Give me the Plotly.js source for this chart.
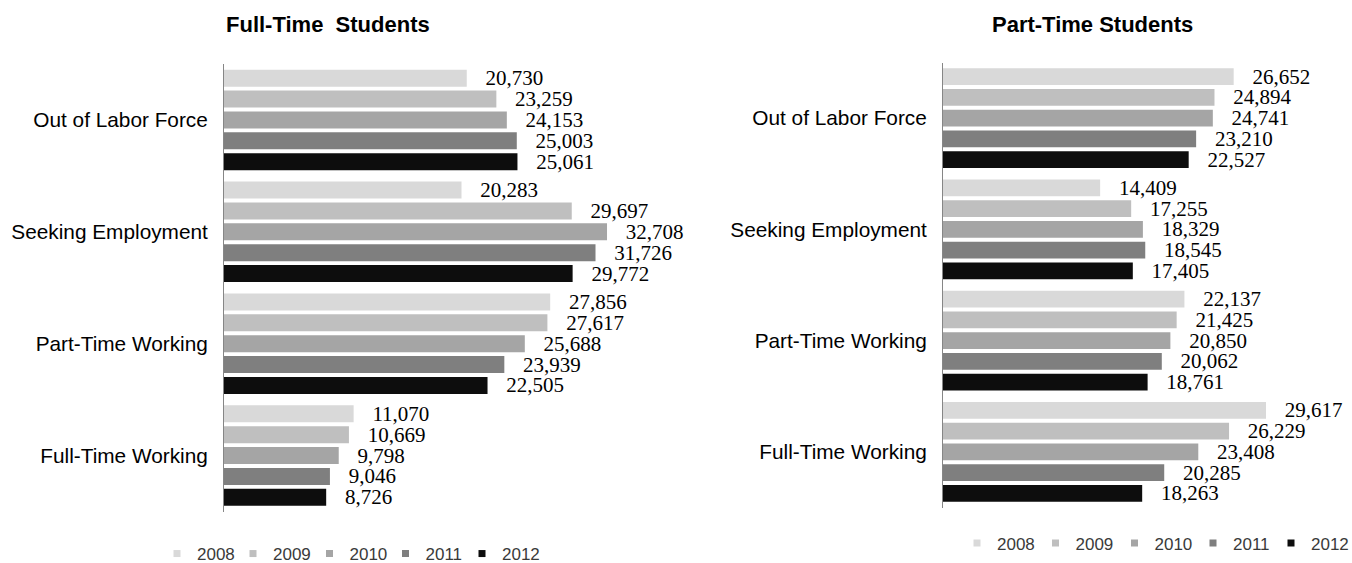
<!DOCTYPE html>
<html>
<head>
<meta charset="utf-8">
<script src="https://cdn.plot.ly/plotly-3.0.1.min.js"></script>
<style>html,body{margin:0;padding:0;background:#fff;}#chart{width:1352px;height:563px;}</style>
</head>
<body>
<div id="chart"></div>
<script>
// ---- data ----
var categories = ['Out of Labor Force', 'Seeking Employment', 'Part-Time Working', 'Full-Time Working'];
var years = ['2008', '2009', '2010', '2011', '2012'];

var fullTime2008 = [20730, 20283, 27856, 11070];
var fullTime2009 = [23259, 29697, 27617, 10669];
var fullTime2010 = [24153, 32708, 25688, 9798];
var fullTime2011 = [25003, 31726, 23939, 9046];
var fullTime2012 = [25061, 29772, 22505, 8726];

var partTime2008 = [26652, 14409, 22137, 29617];
var partTime2009 = [24894, 17255, 21425, 26229];
var partTime2010 = [24741, 18329, 20850, 23408];
var partTime2011 = [23210, 18545, 20062, 20285];
var partTime2012 = [22527, 17405, 18761, 18263];

var titleLeft = 'Full-Time\u00a0 Students';
var titleRight = 'Part-Time Students';

// ---- styling ----
var colors = ['#d9d9d9', '#bfbfbf', '#a5a5a5', '#7f7f7f', '#0d0d0d'];
var fullSeries = [fullTime2008, fullTime2009, fullTime2010, fullTime2011, fullTime2012];
var partSeries = [partTime2008, partTime2009, partTime2010, partTime2011, partTime2012];

var sans = 'Liberation Sans, Arial, sans-serif';
var serif = 'Liberation Serif, Times New Roman, serif';
var W = 1352, H = 563;
function px(v) { return v / W; }
function py(v) { return 1 - v / H; }

var traces = [];
function addBars(series, xa, ya) {
  series.forEach(function (vals, i) {
    traces.push({
      type: 'bar', orientation: 'h',
      x: vals, y: categories,
      xaxis: xa, yaxis: ya,
      name: years[i], showlegend: false,
      marker: { color: colors[i], line: { width: 0 } },
      texttemplate: '\u00a0\u00a0\u00a0%{x:,}',
      textposition: 'outside',
      cliponaxis: false,
      constraintext: 'none',
      textfont: { family: serif, size: 21, color: '#000' },
      hoverinfo: 'skip'
    });
  });
}
addBars(fullSeries, 'x', 'y');
addBars(partSeries, 'x2', 'y2');

// legend entries: one small legend per year and panel, so each entry sits where the reference has it
var leftLegendX = [157, 233, 309.5, 385.5, 462];
var rightLegendX = [957, 1035.5, 1114.5, 1193, 1271];
var legendFont = { family: sans, size: 17, color: '#3a3a3a' };
var layoutLegends = {};
var legendCount = 0;
function addLegends(xa, ya, xs, yc) {
  years.forEach(function (yr, i) {
    legendCount += 1;
    var key = legendCount === 1 ? 'legend' : 'legend' + legendCount;
    traces.push({
      type: 'scatter', mode: 'markers', x: [null], y: [null],
      xaxis: xa, yaxis: ya, name: yr, legend: key, showlegend: true,
      marker: { symbol: 'square', size: 7, color: colors[i] }, hoverinfo: 'skip'
    });
    layoutLegends[key] = {
      orientation: 'h', x: px(xs[i]), y: py(yc), xanchor: 'left', yanchor: 'middle',
      font: legendFont, itemwidth: 30, bgcolor: 'rgba(0,0,0,0)', borderwidth: 0
    };
  });
}
addLegends('x', 'y', leftLegendX, 554);
addLegends('x2', 'y2', rightLegendX, 543.5);

var yCommon = {
  type: 'category', categoryorder: 'array', categoryarray: categories,
  autorange: 'reversed', showgrid: false, zeroline: false, automargin: false,
  showline: true, linecolor: '#868686', linewidth: 1,
  ticks: 'outside', ticklen: 11, tickcolor: 'rgba(0,0,0,0)',
  tickfont: { family: sans, size: 20.8, color: '#000' }
};
var xCommon = { showgrid: false, zeroline: false, showline: false, showticklabels: false, ticks: '', automargin: false };

var layout = {
  width: W, height: H,
  margin: { l: 0, r: 0, t: 0, b: 0, autoexpand: false },
  paper_bgcolor: '#fff', plot_bgcolor: '#fff',
  barmode: 'group', bargap: 0.067, bargroupgap: 0.187,
  xaxis: Object.assign({}, xCommon, { domain: [px(224), px(224 + 39000 * 0.01171)], range: [0, 39000], anchor: 'y' }),
  yaxis: Object.assign({}, yCommon, { domain: [py(511.5), py(64)], anchor: 'x' }),
  xaxis2: Object.assign({}, xCommon, { domain: [px(943), px(943 + 36000 * 0.010906)], range: [0, 36000], anchor: 'y2' }),
  yaxis2: Object.assign({}, yCommon, { domain: [py(507.5), py(62.5)], anchor: 'x2' }),
  annotations: [
    { text: titleLeft, xref: 'paper', yref: 'paper', x: px(327.5), y: py(24), xanchor: 'center', yanchor: 'middle',
      showarrow: false, font: { family: sans, size: 22, color: '#000', weight: 'bold' } },
    { text: titleRight, xref: 'paper', yref: 'paper', x: px(1092), y: py(24), xanchor: 'center', yanchor: 'middle',
      showarrow: false, font: { family: sans, size: 22, color: '#000', weight: 'bold' } }
  ]
};
Object.assign(layout, layoutLegends);

Plotly.newPlot('chart', traces, layout, { displayModeBar: false, staticPlot: true });
</script>
</body>
</html>
